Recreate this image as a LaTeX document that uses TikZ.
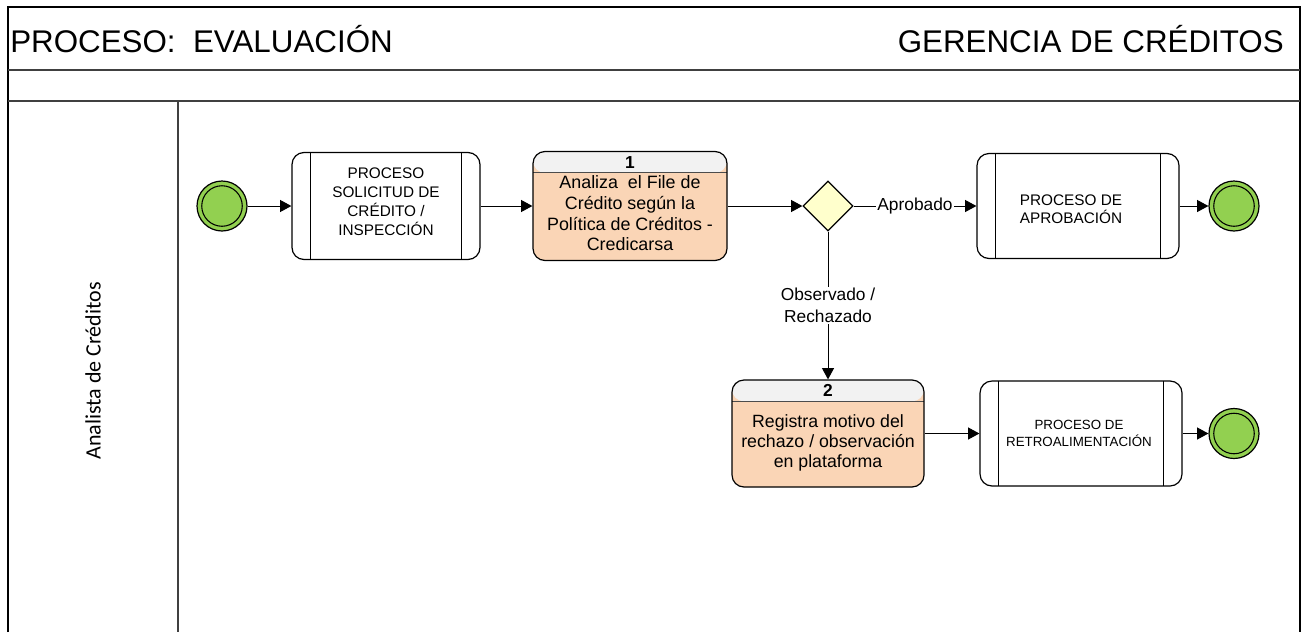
\documentclass[tikz,border=0pt]{standalone}
\usepackage{fontspec}
\setmainfont{Liberation Sans}
\newfontfamily\lanefont{Carlito}
\usetikzlibrary{arrows.meta,shapes.geometric}

\definecolor{evgreen}{HTML}{92D050}
\definecolor{taskbody}{HTML}{FAD5B6}
\definecolor{taskhead}{HTML}{F2F2F2}
\definecolor{gatefill}{HTML}{FFFFCC}
\definecolor{framegray}{HTML}{404040}

\tikzset{
  event/.style={circle, draw, line width=0.9pt, fill=evgreen, minimum size=37.5pt, inner sep=0pt,
    path picture={\draw[line width=0.8pt] (path picture bounding box.center) circle (15.2pt);}},
  subproc/.style={draw, line width=0.9pt, rounded corners=9pt, fill=white, inner sep=0pt,
    path picture={
      \draw[line width=0.7pt] ([xshift=14pt]path picture bounding box.north west) -- ([xshift=14pt]path picture bounding box.south west);
      \draw[line width=0.7pt] ([xshift=-14pt]path picture bounding box.north east) -- ([xshift=-14pt]path picture bounding box.south east);}},
  task/.style={draw, line width=0.9pt, rounded corners=9pt, fill=taskbody, inner sep=0pt,
    path picture={
      \fill[taskhead] (path picture bounding box.north west) rectangle ([yshift=-16pt]path picture bounding box.north east);
      \draw[line width=0.8pt, black!70] ([yshift=-16pt]path picture bounding box.north west) -- ([yshift=-16pt]path picture bounding box.north east);}},
  gate/.style={diamond, draw, line width=0.9pt, fill=gatefill, minimum width=37.5pt, minimum height=37.5pt, inner sep=0pt, aspect=1},
  proctext/.style={align=center, font=\fontsize{11.5pt}{14.3pt}\selectfont},
  tasktext/.style={align=center, font=\fontsize{13.4pt}{15.5pt}\selectfont},
  tasknum/.style={font=\fontsize{13pt}{15pt}\selectfont\bfseries},
  flow/.style={line width=0.75pt, -{Triangle[length=8.5pt,width=9pt]}},
  flowlabel/.style={fill=white, inner sep=1pt, align=center, font=\fontsize{13pt}{16.5pt}\selectfont},
}

\begin{document}
\begin{tikzpicture}[x=0.75pt, y=-0.75pt]
\useasboundingbox (0,0) rectangle (1308,632);

% pool frame, header rows and lane divider
\draw[line width=1.1pt] (8,632) -- (8,7) -- (1300,7) -- (1300,632);
\draw[line width=0.9pt, framegray] (8,70) -- (1300,70);
\draw[line width=1.3pt, framegray] (8,101) -- (1300,101);
\draw[line width=0.9pt, framegray] (178,101) -- (178,632);

% header titles
\node[anchor=base west, inner sep=0pt, font=\fontsize{23.5pt}{28pt}\selectfont] (title) at (10,52) {PROCESO:\ \ EVALUACIÓN};
\node[anchor=base east, inner sep=0pt, font=\fontsize{23.5pt}{28pt}\selectfont] (dept) at (1284,52) {GERENCIA DE CRÉDITOS};

% lane name
\node[rotate=90, inner sep=0pt, font=\lanefont\fontsize{16.5pt}{19pt}\selectfont] (lane) at (93,371) {Analista de Créditos};

% first row
\node[event] (start) at (222,206) {};
\node[subproc, minimum width=141pt, minimum height=80.25pt] (sol) at (386,206) {};
\node[proctext] (soltxt) at (386,202) {PROCESO\\SOLICITUD DE\\CRÉDITO /\\INSPECCIÓN};

\node[task, minimum width=145.5pt, minimum height=81.75pt] (t1) at (630,206) {};
\node[tasknum] (t1num) at (630,162.5) {1};
\node[tasktext] (t1txt) at (630,213.5) {Analiza\ \ el File de\\Crédito según la\\Política de Créditos -\\Credicarsa};

\node[gate] (gw) at (828,206) {};

\node[subproc, minimum width=151.5pt, minimum height=78.75pt] (apr) at (1078,206) {};
\node[proctext, font=\fontsize{11.5pt}{13.5pt}\selectfont] (aprtxt) at (1071,209) {PROCESO DE\\APROBACIÓN};

\node[event] (end1) at (1234,206) {};

% second row
\node[task, minimum width=144pt, minimum height=80.25pt] (t2) at (828,433.5) {};
\node[tasknum] (t2num) at (828,390.5) {2};
\node[tasktext, font=\fontsize{13.3pt}{15pt}\selectfont] (t2txt) at (828,443) {Registra motivo del\\rechazo / observación\\en plataforma};

\node[subproc, minimum width=151.5pt, minimum height=78.75pt] (ret) at (1081,433.5) {};
\node[proctext, font=\fontsize{10pt}{12.75pt}\selectfont] (rettxt) at (1079,433.5) {PROCESO DE\\RETROALIMENTACIÓN};

\node[event] (end2) at (1234,433.5) {};

% sequence flows
\draw[flow] (start) -- (sol);
\draw[flow] (sol) -- (t1);
\draw[flow] (t1) -- (gw);
\draw[flow] (gw) -- node[flowlabel] (lblok) {Aprobado} (apr);
\draw[flow] (apr) -- (end1);
\draw[flow] (gw) -- node[flowlabel] (lblobs) {Observado /\\Rechazado} (t2);
\draw[flow] (t2) -- (ret);
\draw[flow] (ret) -- (end2);
\end{tikzpicture}
\end{document}
